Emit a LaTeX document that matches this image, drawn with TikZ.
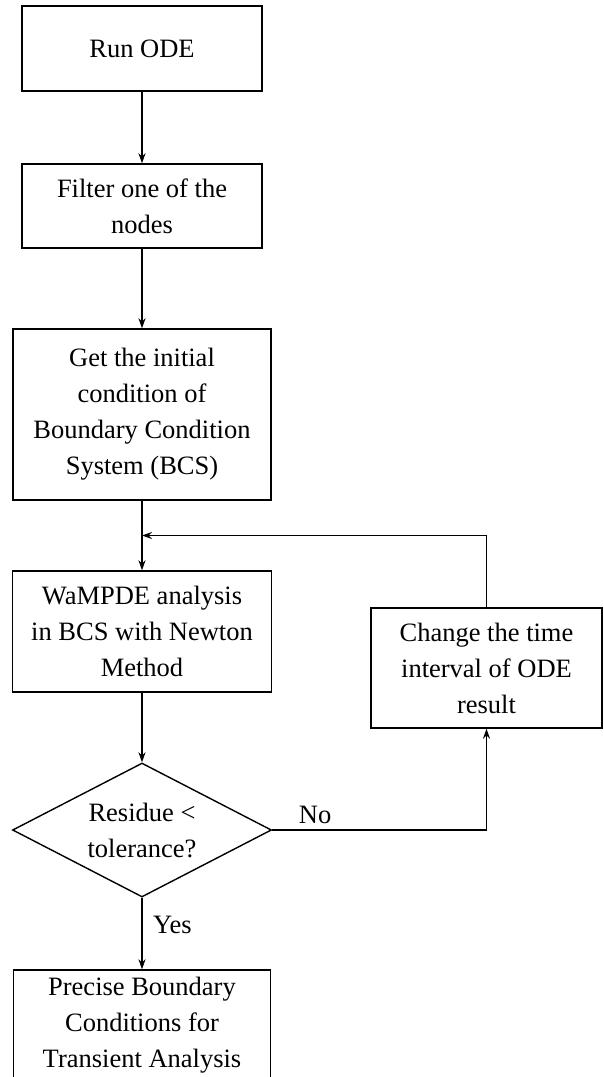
\documentclass[tikz,border=0pt]{standalone}
\usepackage{fontspec}
\setmainfont{Liberation Serif}
\usetikzlibrary{shapes.geometric, arrows.meta, calc}
\tikzset{
    base/.style={draw, rectangle, line width=1.4pt, align=center, inner sep=0pt, font=\fontsize{26.5}{36}\selectfont},
    decision/.style={draw, diamond, aspect=1.93, line width=1.4pt, align=center, inner sep=0pt, minimum width=259pt, minimum height=134pt, font=\fontsize{26.5}{36}\selectfont},
    arrow/.style={line width=1.4pt, -{Stealth[length=10pt, width=7pt]}}
}

\begin{document}
\begin{tikzpicture}[x=1pt, y=1pt]
\useasboundingbox (0,0) rectangle (603,-1077);
\node[base, minimum width=240pt, minimum height=85pt] (run) at (142,-48.5) {Run ODE};
\node[base, minimum width=240pt, minimum height=84pt, node distance=157.5pt, below of=run] (filter) {Filter one of the\\nodes};
\node[base, minimum width=258pt, minimum height=171pt, node distance=208.5pt, below of=filter] (init) {Get the initial\\condition of\\Boundary Condition\\System (BCS)};
\node[base, minimum width=259pt, minimum height=121pt, node distance=217pt, below of=init] (wampde) {WaMPDE analysis\\in BCS with Newton\\Method};
\node[decision, node distance=198.5pt, below of=wampde] (resid) {Residue <\\tolerance?};
\node[base, minimum width=257pt, minimum height=110pt, node distance=195pt, below of=resid] (prec) {Precise Boundary\\Conditions for\\Transient Analysis};
\node[base, minimum width=231pt, minimum height=120pt] (change) at (486.5,-668) {Change the time\\interval of ODE\\result};
\draw[arrow] (run) -- (filter);
\draw[arrow] (filter) -- (init);
\draw[arrow] (init) -- (wampde);
\draw[arrow] (wampde) -- (resid);
\draw[arrow] (resid) -- node[pos=0.38, right=7pt] {\fontsize{26.5}{36}\selectfont Yes} (prec);
\draw[arrow] (resid.east) -| node[pos=0.1, above=2pt] {\fontsize{26.5}{36}\selectfont No} (change.south);
\draw[arrow] (change.north) |- ($(init.south)!0.5!(wampde.north)$);
\end{tikzpicture}
\end{document}
